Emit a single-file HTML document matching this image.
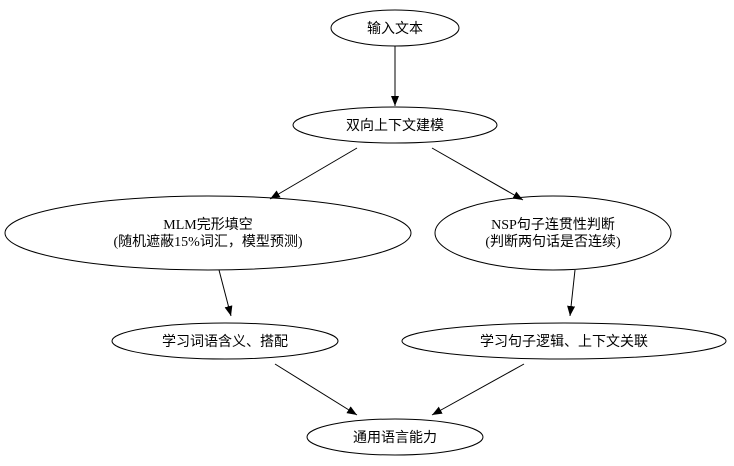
<!DOCTYPE html>
<html><head><meta charset="utf-8"><style>
html,body{margin:0;padding:0;background:#fff;}
svg{display:block;}
text{font-family:"Liberation Serif","Noto Sans CJK SC",serif;font-size:14px;fill:#000;}
</style></head><body>
<svg width="734" height="466" viewBox="0 0 734 466" xmlns="http://www.w3.org/2000/svg">
<defs><marker id="a" markerWidth="10" markerHeight="8" refX="10" refY="4" orient="auto" markerUnits="userSpaceOnUse"><path d="M0,0 L10,4 L0,8 z" fill="#000"/></marker></defs>
<g fill="none" stroke="#000" stroke-width="1">
<ellipse cx="395" cy="28" rx="64" ry="18"/>
<ellipse cx="395" cy="125" rx="102" ry="18"/>
<ellipse cx="208" cy="233" rx="203" ry="37"/>
<ellipse cx="553" cy="233" rx="118" ry="37"/>
<ellipse cx="225" cy="341" rx="113" ry="18"/>
<ellipse cx="564" cy="341" rx="162" ry="18"/>
<ellipse cx="395" cy="437" rx="88" ry="18"/>
<line x1="395" y1="46" x2="395" y2="106" marker-end="url(#a)"/>
<line x1="357" y1="148" x2="270" y2="199" marker-end="url(#a)"/>
<line x1="432" y1="148" x2="523" y2="200" marker-end="url(#a)"/>
<line x1="219" y1="270" x2="231" y2="316" marker-end="url(#a)"/>
<line x1="575" y1="270" x2="570" y2="316" marker-end="url(#a)"/>
<line x1="275" y1="364" x2="357" y2="415" marker-end="url(#a)"/>
<line x1="524" y1="364" x2="432" y2="415" marker-end="url(#a)"/>
</g>
<g text-anchor="middle">
<text x="395" y="33">输入文本</text>
<text x="395" y="130">双向上下文建模</text>
<text x="208" y="229">MLM完形填空</text>
<text x="208" y="246">(随机遮蔽15%词汇，模型预测)</text>
<text x="553" y="229">NSP句子连贯性判断</text>
<text x="553" y="246">(判断两句话是否连续)</text>
<text x="225" y="346">学习词语含义、搭配</text>
<text x="564" y="346">学习句子逻辑、上下文关联</text>
<text x="395" y="442">通用语言能力</text>
</g>
</svg>
</body></html>
